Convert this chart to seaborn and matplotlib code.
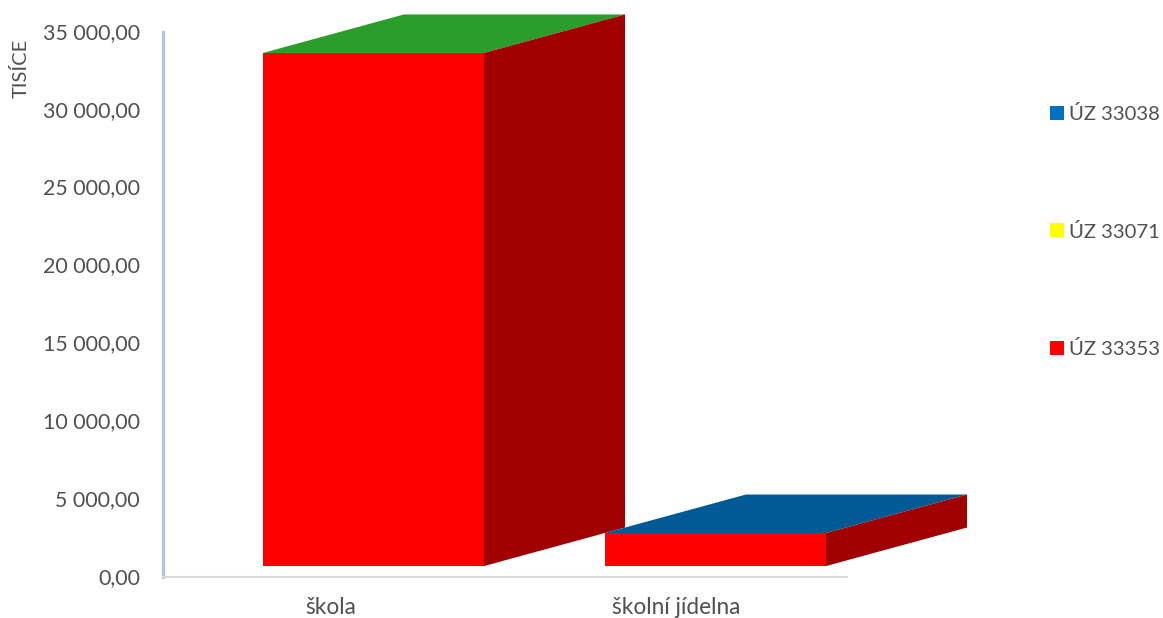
import matplotlib
matplotlib.use("Agg")
import matplotlib.pyplot as plt
from matplotlib.patches import Patch
from matplotlib.ticker import FixedLocator, FixedFormatter
from matplotlib.transforms import ScaledTranslation
import pandas as pd
import seaborn as sns

categories = ["škola", "školní jídelna"]
values_33353 = [32950, 2120]
floor_offset = 705
series_names = ["ÚZ 33038", "ÚZ 33071", "ÚZ 33353"]
series_colors = ["#0070C0", "#FFFF00", "#FF0000"]
top_colors = ["#2A9D2A", "#005A96"]
side_color = "#A00000"
y_ticks = [0, 5000, 10000, 15000, 20000, 25000, 30000, 35000]
y_labels = ["0,00", "5 000,00", "10 000,00", "15 000,00", "20 000,00",
            "25 000,00", "30 000,00", "35 000,00"]
y_title = "TISÍCE"

sns.set_theme(style="white")
plt.rcParams["font.family"] = ["Lato", "DejaVu Sans"]
text_color = "#505050"
W, H = 1163, 618
fig = plt.figure(figsize=(W / 100, H / 100), dpi=100)
ax = fig.add_axes([163 / W, 1 - 577 / H, 684 / W, 545 / H])

df = pd.DataFrame({"kategorie": categories, "hodnota": values_33353})
sns.barplot(data=df, x="kategorie", y="hodnota", color="#FF0000", saturation=1,
            width=221 / 342, bottom=floor_offset, ax=ax, linewidth=0, zorder=3)
ax.set_xlim(-0.6155, 1.3845)
ax.set_ylim(0, 35000)

# pseudo-3D depth, derived from each bar
dx, dy = 141 / 342, 38.5 / 545 * 35000
for bar, top_color in zip(ax.patches, top_colors):
    x0, x1 = bar.get_x(), bar.get_x() + bar.get_width()
    y0, y1 = bar.get_y(), bar.get_y() + bar.get_height()
    ax.fill([x0, x0 + dx, x1 + dx, x1], [y1, y1 + dy, y1 + dy, y1],
            color=top_color, lw=0, clip_on=False, zorder=4)
    ax.fill([x1, x1 + dx, x1 + dx, x1], [y0, y0 + dy, y1 + dy, y1],
            color=side_color, lw=0, clip_on=False, zorder=4)

ax.xaxis.set_major_locator(FixedLocator([-0.125, 0.885]))
ax.xaxis.set_major_formatter(FixedFormatter(categories))
ax.yaxis.set_major_locator(FixedLocator(y_ticks))
ax.yaxis.set_major_formatter(FixedFormatter(y_labels))
ax.tick_params(axis="x", length=0, pad=14.5, labelsize=16.3, labelcolor=text_color)
ax.tick_params(axis="y", length=0, pad=16.5, labelsize=15.4, labelcolor=text_color)
up = ScaledTranslation(0, 1.2 / 100, fig.dpi_scale_trans)
for lab in ax.get_yticklabels():
    lab.set_transform(lab.get_transform() + up)
ax.set_xlabel("")
ax.set_ylabel(y_title, fontsize=14.5, color=text_color)
ax.yaxis.set_label_coords((30 - 163) / 684, (577 - 68) / 545)

for s in ["top", "right"]:
    ax.spines[s].set_visible(False)
ax.spines["left"].set_color("#A9C4E6")
ax.spines["left"].set_linewidth(2.2)
ax.spines["bottom"].set_color("#D9D9D9")
ax.spines["bottom"].set_linewidth(1.5)

handles = [Patch(facecolor=c, edgecolor="none", label=n)
           for c, n in zip(series_colors, series_names)]
leg = fig.legend(handles=handles, loc="center left",
                 bbox_to_anchor=(1050 / W, 1 - 231.5 / H), frameon=False,
                 fontsize=14.6, labelspacing=4.92, handlelength=0.69, handleheight=0.69,
                 handletextpad=0.27, borderpad=0, borderaxespad=0)
for t in leg.get_texts():
    t.set_color(text_color)

fig.savefig("out.png", dpi=100, facecolor="white")
